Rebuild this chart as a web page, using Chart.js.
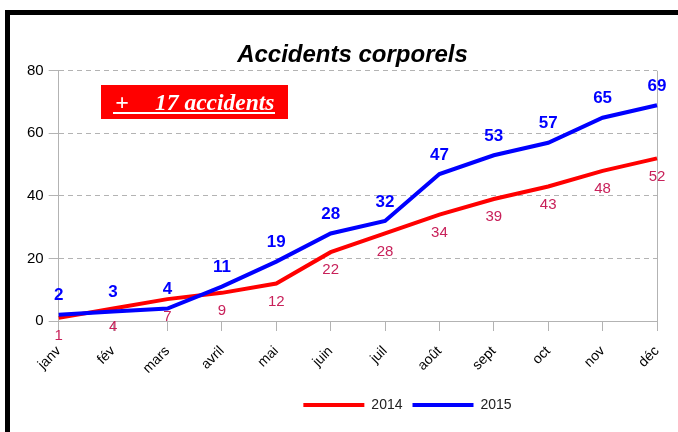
<!DOCTYPE html>
<html>
<head>
<meta charset="utf-8">
<script src="https://cdn.jsdelivr.net/npm/chart.js@4"></script>
<style>
  html, body { margin: 0; padding: 0; background: #fff; }
  #wrap { width: 678px; height: 432px; position: relative; }
</style>
</head>
<body>
<div id="wrap"><canvas id="graphique" width="678" height="432"></canvas></div>
<script>
// Données
const mois = ['janv', 'fév', 'mars', 'avril', 'mai', 'juin', 'juil', 'août', 'sept', 'oct', 'nov', 'déc'];
const acc2014 = [1, 4, 7, 9, 12, 22, 28, 34, 39, 43, 48, 52];
const acc2015 = [2, 3, 4, 11, 19, 28, 32, 47, 53, 57, 65, 69];
const yTicks = [0, 20, 40, 60, 80];
const annotationTexte = ['+', '17 accidents'];

Chart.defaults.font.family = "'Liberation Sans', Arial, sans-serif";
Chart.defaults.color = '#000';

// cadre noir + bord droit du graphe
const cadre = {
    id: 'cadre',
    afterLayout(chart) {
        // décalage du titre et de la légende comme sur l'original
        chart.titleBlock.left += 13;
        chart.titleBlock.right += 13;
        chart.legend.left += 68;
        chart.legend.right += 68;
    },
    beforeDraw(chart) {
        const c = chart.ctx;
        c.save();
        c.fillStyle = '#fff';
        c.fillRect(0, 0, chart.width, chart.height);
        c.fillStyle = '#000';
        c.fillRect(5, 10, chart.width - 5, 5);
        c.fillRect(5, 10, 5, chart.height - 10);
        c.restore();
    },
    beforeDatasetsDraw(chart) {
        const a = chart.chartArea;
        const c = chart.ctx;
        c.save();
        c.strokeStyle = '#b3b3b3';
        c.lineWidth = 1;
        c.beginPath();
        c.moveTo(Math.round(a.right) + 0.5, a.top);
        c.lineTo(Math.round(a.right) + 0.5, a.bottom + 10);
        c.stroke();
        c.restore();
    }
};

// étiquettes des valeurs
const etiquettes = {
    id: 'etiquettes',
    afterDatasetsDraw(chart) {
        const c = chart.ctx;
        c.save();
        c.textAlign = 'center';
        c.textBaseline = 'middle';
        chart.data.datasets.forEach((ds, i) => {
            const meta = chart.getDatasetMeta(i);
            meta.data.forEach((pt, j) => {
                if (i === 0) {
                    c.font = "15px 'Liberation Sans'";
                    c.fillStyle = '#c8215a';
                    c.fillText(ds.data[j], pt.x, pt.y + 18);
                } else {
                    c.font = "bold 17px 'Liberation Sans'";
                    c.fillStyle = '#0000ff';
                    c.fillText(ds.data[j], pt.x, pt.y - 19);
                }
            });
        });
        c.restore();
    }
};

// encadré rouge
const encadre = {
    id: 'encadre',
    afterDraw(chart) {
        const c = chart.ctx;
        c.save();
        c.fillStyle = '#ff0000';
        c.fillRect(101, 85, 187, 34);
        c.fillStyle = '#fff';
        c.textBaseline = 'alphabetic';
        c.font = "bold 24px 'Liberation Serif'";
        c.textAlign = 'center';
        c.fillText(annotationTexte[0], 122, 110);
        c.font = "italic bold 23.5px 'Liberation Serif'";
        c.textAlign = 'left';
        c.fillText(annotationTexte[1], 155, 110);
        c.fillRect(113, 112, 162, 2);
        c.restore();
    }
};

const ctx = document.getElementById('graphique').getContext('2d');
const graphique = new Chart(ctx, {
    type: 'line',
    data: {
        labels: mois,
        datasets: [{
            label: '2014',
            data: acc2014,
            borderColor: '#ff0000',
            backgroundColor: '#ff0000',
            borderWidth: 4,
            pointRadius: 0,
            tension: 0,
            order: 1
        }, {
            label: '2015',
            data: acc2015,
            borderColor: '#0000ff',
            backgroundColor: '#0000ff',
            borderWidth: 4,
            pointRadius: 0,
            tension: 0,
            order: 0
        }]
    },
    options: {
        responsive: false,
        animation: false,
        layout: { padding: { left: 22, right: 21, top: 0, bottom: 10 } },
        plugins: {
            tooltip: { enabled: false },
            title: {
                display: true,
                text: 'Accidents corporels',
                color: '#000',
                font: { size: 24, weight: 'bold', style: 'italic' },
                padding: { top: 41, bottom: 1 }
            },
            legend: {
                position: 'bottom',
                labels: {
                    boxWidth: 61,
                    boxHeight: 4,
                    color: '#222',
                    font: { size: 14 },
                    padding: 10,
                    sort: (a, b) => a.datasetIndex - b.datasetIndex,
                    generateLabels: (chart) => Chart.defaults.plugins.legend.labels.generateLabels(chart)
                        .map(l => Object.assign(l, { lineWidth: 0 }))
                }
            }
        },
        scales: {
            x: {
                offset: false,
                afterFit: (axis) => { axis.height = 67; axis.paddingRight = 0; },
                grid: { drawOnChartArea: false, drawTicks: true, tickLength: 10, color: '#b3b3b3' },
                border: { color: '#b3b3b3' },
                ticks: { maxRotation: 45, minRotation: 45, padding: 12, font: { size: 14 }, color: '#000' }
            },
            y: {
                min: yTicks[0],
                max: yTicks[yTicks.length - 1],
                afterBuildTicks: (axis) => { axis.ticks = yTicks.map(v => ({ value: v })); },
                grid: { color: '#b3b3b3', tickLength: 10 },
                border: { color: '#b3b3b3', dash: [5, 4] },
                ticks: { padding: 5, font: { size: 15 }, color: '#000' }
            }
        }
    },
    plugins: [cadre, etiquettes, encadre]
});
</script>
</body>
</html>
